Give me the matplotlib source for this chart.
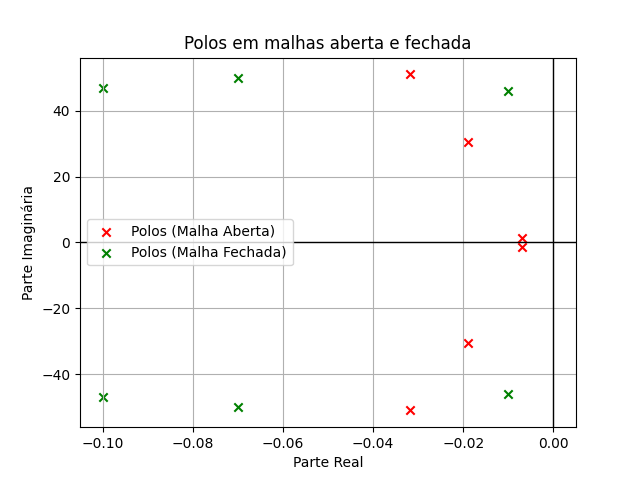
import matplotlib
matplotlib.use("Agg")
import matplotlib.pyplot as plt
import numpy as np

ol_real = [-0.0318, -0.0190, -0.0069, -0.0069, -0.0190, -0.0318]
ol_imag = [51.0, 30.5, 1.4, -1.4, -30.5, -51.0]

cl_real = [-0.10, -0.07, -0.010, -0.010, -0.07, -0.10]
cl_imag = [47.0, 50.0, 46.0, -46.0, -50.0, -47.0]

fig, ax = plt.subplots(figsize=(6.4, 4.8), dpi=100)
ax.scatter(ol_real, ol_imag, marker='x', color='red', label='Polos (Malha Aberta)')
ax.scatter(cl_real, cl_imag, marker='x', color='green', label='Polos (Malha Fechada)')
ax.axhline(0, color='black', linewidth=1)
ax.axvline(0, color='black', linewidth=1)
ax.set_title('Polos em malhas aberta e fechada')
ax.set_xlabel('Parte Real')
ax.set_ylabel('Parte Imaginária')
ax.grid(True)
ax.legend(loc='center left')
fig.savefig('out.png')
